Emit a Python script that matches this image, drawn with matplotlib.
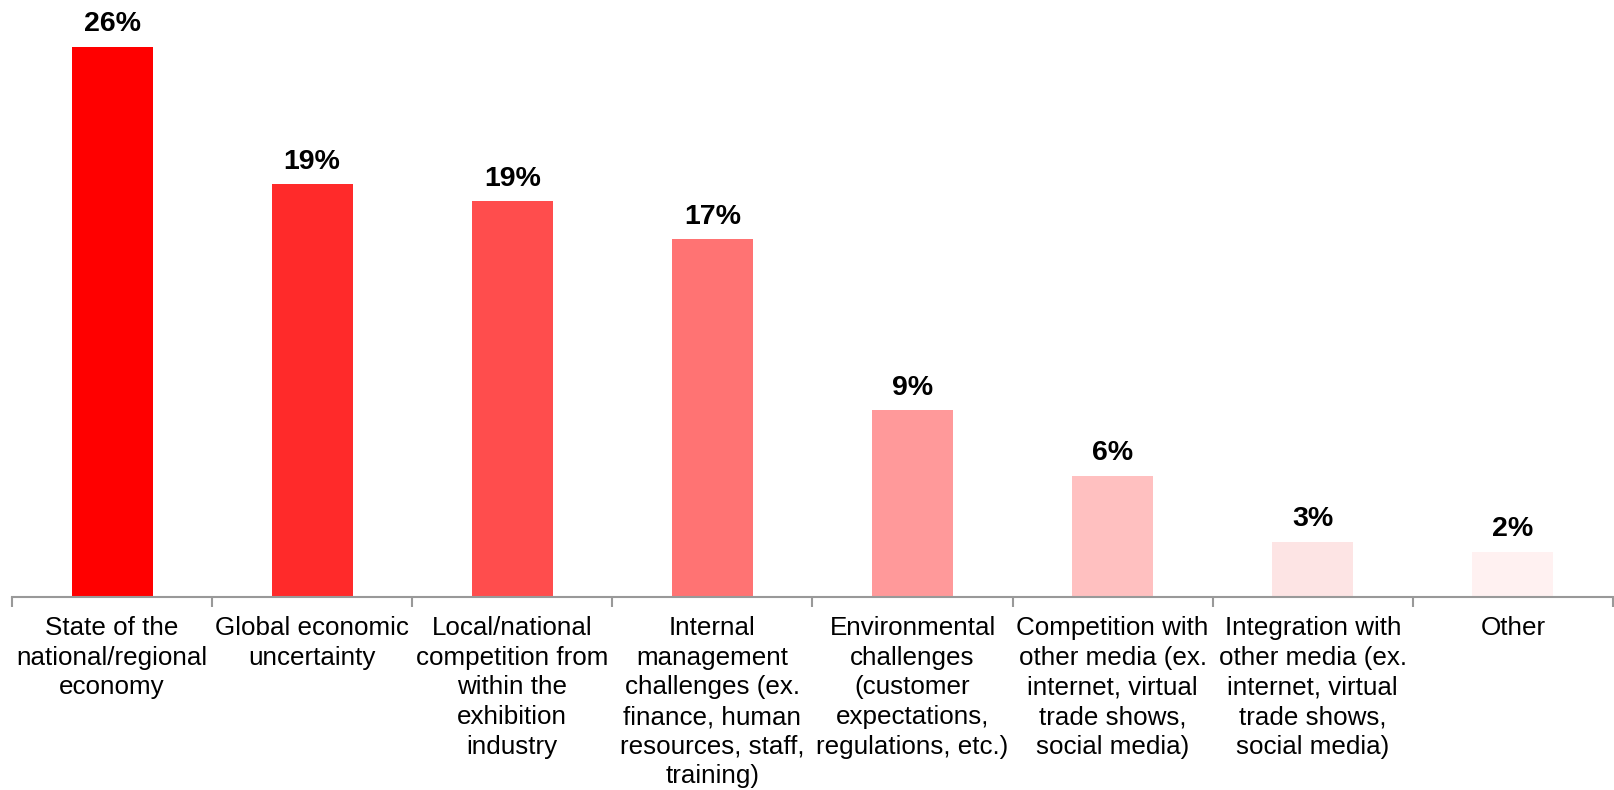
import matplotlib.pyplot as plt

plt.rcParams['font.family'] = ['Liberation Sans', 'DejaVu Sans']

categories = [
    "State of the\nnational/regional\neconomy",
    "Global economic\nuncertainty",
    "Local/national\ncompetition from\nwithin the\nexhibition\nindustry",
    "Internal\nmanagement\nchallenges (ex.\nfinance, human\nresources, staff,\ntraining)",
    "Environmental\nchallenges\n(customer\nexpectations,\nregulations, etc.)",
    "Competition with\nother media (ex.\ninternet, virtual\ntrade shows,\nsocial media)",
    "Integration with\nother media (ex.\ninternet, virtual\ntrade shows,\nsocial media)",
    "Other",
]
values = [26.0, 19.5, 18.7, 16.9, 8.8, 5.7, 2.6, 2.1]
labels = ["26%", "19%", "19%", "17%", "9%", "6%", "3%", "2%"]
colors = ["#FF0000", "#FF2A2A", "#FF4D4D", "#FF7373", "#FF999A", "#FFC0C0", "#FDE4E4", "#FFF1F1"]

fig = plt.figure(figsize=(16.15, 7.9), dpi=100)
ax = fig.add_axes([12 / 1615, 1 - 596.5 / 790, 1601 / 1615, 596.5 / 790])

x = list(range(len(categories)))
bars = ax.bar(x, values, width=0.405, color=colors)

for bar, lab in zip(bars, labels):
    ax.annotate(lab, (bar.get_x() + bar.get_width() / 2, bar.get_height()),
                xytext=(0, 7), textcoords="offset points", ha="center", va="bottom",
                fontsize=20.5, fontweight="bold", color="black")

ax.set_xlim(-0.5, len(categories) - 0.5)
ax.set_ylim(0, 28.22)

for s in ["top", "right", "left"]:
    ax.spines[s].set_visible(False)
ax.spines["bottom"].set_color("#999999")
ax.spines["bottom"].set_linewidth(1.5)
ax.set_yticks([])

# ticks between categories
ax.set_xticks([i - 0.5 for i in range(len(categories) + 1)], minor=False)
ax.set_xticklabels([])
ax.tick_params(axis="x", length=7, width=1.5, color="#999999")

for i, cat in enumerate(categories):
    ax.annotate(cat, (i, 0), xytext=(0, -14), textcoords="offset points",
                ha="center", va="top", fontsize=18.7, color="black",
                linespacing=1.3, annotation_clip=False)

fig.savefig("out.png", dpi=100)
